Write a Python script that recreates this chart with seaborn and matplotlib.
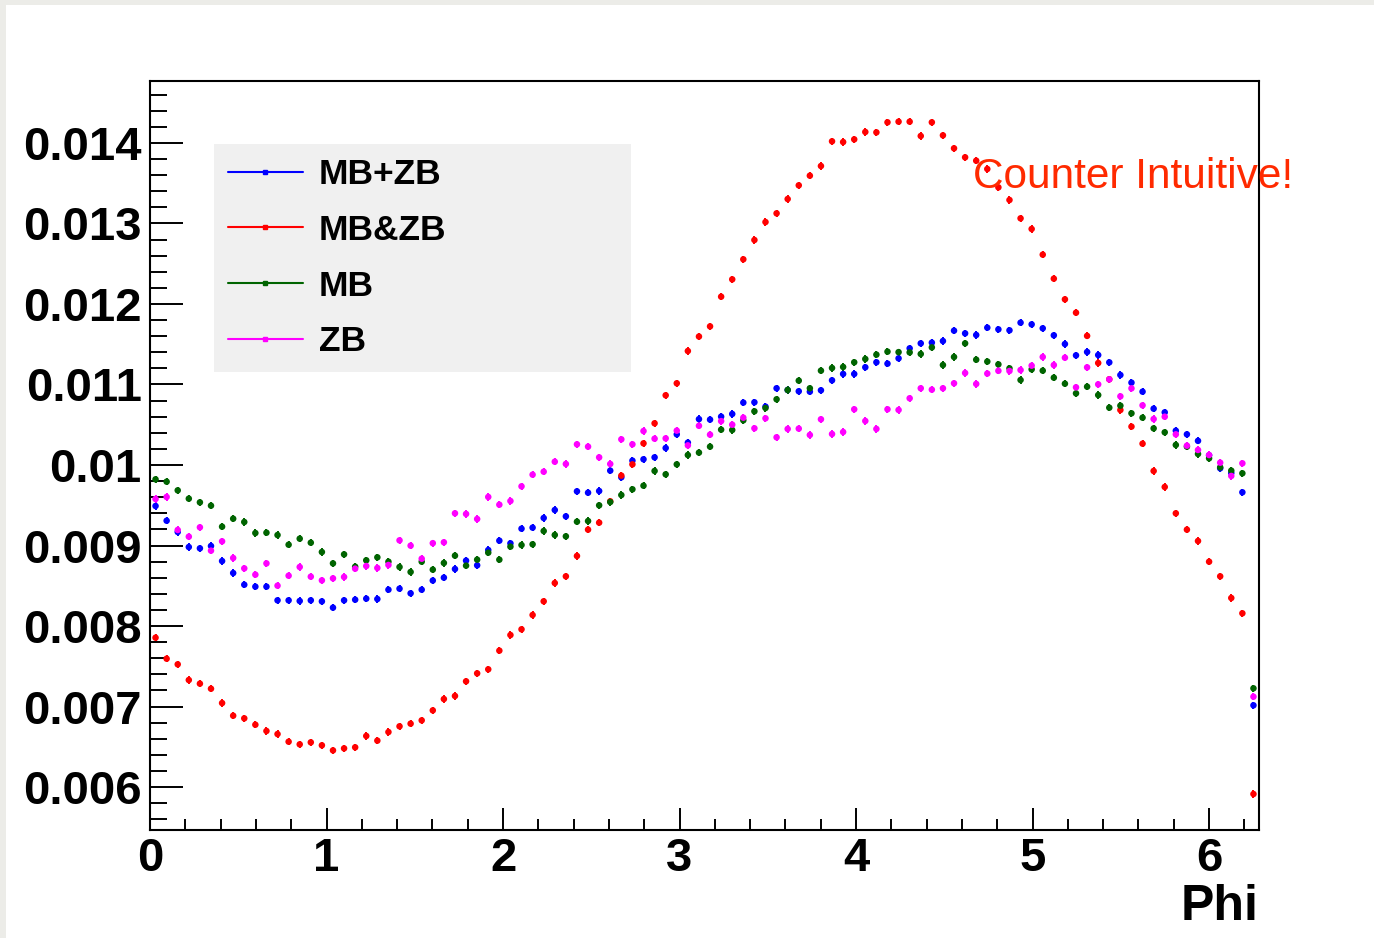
import numpy as np
import pandas as pd
import matplotlib
matplotlib.use("Agg")
import matplotlib.pyplot as plt
import seaborn as sns
from matplotlib.lines import Line2D
from matplotlib.patches import Rectangle
from matplotlib.ticker import MultipleLocator, FixedLocator, FixedFormatter

# 100 bins in phi, values in units of 1e-3
n_bins = 100
phi_edges = np.linspace(0, 2 * np.pi, n_bins + 1)
phi = 0.5 * (phi_edges[:-1] + phi_edges[1:])

mb_plus_zb = [
    9.491, 9.308, 9.168, 8.981, 8.965, 8.994, 8.807, 8.658, 8.513, 8.489,
    8.489, 8.319, 8.319, 8.311, 8.319, 8.306, 8.228, 8.319, 8.327, 8.340,
    8.335, 8.451, 8.464, 8.406, 8.451, 8.565, 8.601, 8.708, 8.812, 8.754,
    8.944, 9.060, 9.027, 9.209, 9.222, 9.342, 9.441, 9.362, 9.673, 9.656,
    9.677, 9.930, 9.847, 10.054, 10.071, 10.095, 10.211, 10.381, 10.278, 10.570,
    10.564, 10.601, 10.634, 10.775, 10.779, 10.725, 10.953, 10.932, 10.916, 10.911,
    10.928, 11.052, 11.131, 11.131, 11.214, 11.276, 11.259, 11.325, 11.449, 11.511,
    11.520, 11.540, 11.669, 11.635, 11.615, 11.706, 11.685, 11.673, 11.768, 11.747,
    11.698, 11.611, 11.503, 11.362, 11.404, 11.366, 11.275, 11.118, 11.023, 10.911,
    10.700, 10.654, 10.426, 10.381, 10.300, 10.120, 9.959, 9.900, 9.661, 7.015,
]
mb_and_zb = [
    7.855, 7.594, 7.524, 7.329, 7.284, 7.221, 7.043, 6.886, 6.853, 6.774,
    6.696, 6.658, 6.563, 6.530, 6.555, 6.518, 6.455, 6.480, 6.493, 6.634,
    6.576, 6.683, 6.754, 6.787, 6.828, 6.952, 7.093, 7.131, 7.313, 7.412,
    7.462, 7.694, 7.888, 7.959, 8.137, 8.307, 8.534, 8.617, 8.870, 9.197,
    9.284, 9.549, 9.868, 10.008, 10.269, 10.518, 10.866, 11.015, 11.416, 11.596,
    11.722, 12.091, 12.306, 12.555, 12.795, 13.018, 13.126, 13.304, 13.474, 13.594,
    13.714, 14.021, 14.012, 14.045, 14.137, 14.132, 14.257, 14.265, 14.265, 14.087,
    14.257, 14.095, 13.934, 13.822, 13.780, 13.677, 13.449, 13.292, 13.064, 12.932,
    12.613, 12.315, 12.058, 11.892, 11.604, 11.267, 11.065, 10.683, 10.477, 10.265,
    9.926, 9.727, 9.400, 9.197, 9.056, 8.799, 8.617, 8.348, 8.158, 5.913,
]
mb = [
    9.822, 9.793, 9.685, 9.582, 9.536, 9.495, 9.234, 9.333, 9.292, 9.155,
    9.159, 9.130, 9.010, 9.085, 9.035, 8.919, 8.778, 8.890, 8.737, 8.816,
    8.853, 8.799, 8.733, 8.671, 8.799, 8.700, 8.783, 8.874, 8.750, 8.824,
    8.911, 8.824, 8.986, 9.006, 9.015, 9.180, 9.131, 9.114, 9.296, 9.304,
    9.499, 9.540, 9.627, 9.698, 9.743, 9.926, 9.884, 10.008, 10.124, 10.154,
    10.228, 10.439, 10.435, 10.555, 10.667, 10.708, 10.816, 10.932, 11.048, 10.953,
    11.172, 11.205, 11.218, 11.276, 11.317, 11.371, 11.408, 11.402, 11.399, 11.379,
    11.461, 11.242, 11.342, 11.511, 11.308, 11.285, 11.250, 11.201, 11.056, 11.188,
    11.172, 11.085, 11.010, 10.890, 10.973, 10.869, 10.712, 10.737, 10.642, 10.588,
    10.455, 10.406, 10.249, 10.228, 10.137, 10.083, 9.971, 9.930, 9.897, 7.226,
]
zb = [
    9.578, 9.603, 9.193, 9.110, 9.226, 8.936, 9.052, 8.845, 8.716, 8.638,
    8.778, 8.501, 8.625, 8.733, 8.613, 8.567, 8.592, 8.609, 8.712, 8.745,
    8.721, 8.758, 9.064, 8.998, 8.836, 9.029, 9.040, 9.400, 9.392, 9.329,
    9.603, 9.507, 9.553, 9.735, 9.880, 9.917, 10.041, 10.013, 10.257, 10.228,
    10.095, 10.013, 10.319, 10.257, 10.422, 10.327, 10.331, 10.427, 10.244, 10.487,
    10.377, 10.545, 10.501, 10.588, 10.456, 10.580, 10.344, 10.448, 10.452, 10.373,
    10.568, 10.385, 10.410, 10.692, 10.547, 10.448, 10.692, 10.684, 10.829, 10.953,
    10.936, 10.953, 11.015, 11.143, 11.007, 11.136, 11.170, 11.168, 11.180, 11.234,
    11.342, 11.242, 11.333, 10.965, 11.213, 11.002, 11.064, 10.853, 10.952, 10.741,
    10.571, 10.600, 10.381, 10.240, 10.187, 10.124, 10.029, 9.864, 10.021, 7.122,
]

series_names = ["MB+ZB", "MB&ZB", "MB", "ZB"]
series_values = [mb_plus_zb, mb_and_zb, mb, zb]
series_colors = ["#0000ff", "#ff0000", "#006400", "#ff00ff"]
err = 0.045  # same units (1e-3)

y_ticks = [0.006, 0.007, 0.008, 0.009, 0.010, 0.011, 0.012, 0.013, 0.014]
y_tick_labels = ["0.006", "0.007", "0.008", "0.009", "0.01", "0.011", "0.012", "0.013", "0.014"]
x_ticks = [0, 1, 2, 3, 4, 5, 6]

frames = []
for name, vals in zip(series_names, series_values):
    frames.append(pd.DataFrame({"phi": phi, "value": np.array(vals) * 1e-3, "trigger": name}))
df = pd.concat(frames, ignore_index=True)

sns.set_theme(style="ticks")
plt.rcParams['font.family'] = ['Liberation Sans', 'DejaVu Sans']

fig = plt.figure(figsize=(13.74, 9.38), dpi=100)
fig.patch.set_facecolor("#ecece8")
fig.add_artist(Rectangle((6 / 1374, 0), 1, 1 - 5 / 938, transform=fig.transFigure,
                         facecolor="white", edgecolor="none", zorder=-1))
ax = fig.add_axes([150 / 1374, 1 - 830 / 938, 1109 / 1374, 749 / 938])

palette = dict(zip(series_names, series_colors))
for name in series_names:
    sub = df[df["trigger"] == name]
    ax.errorbar(sub["phi"], sub["value"], yerr=err * 1e-3, fmt="none",
                ecolor=palette[name], elinewidth=1.4, capsize=0, zorder=2)
sns.scatterplot(data=df, x="phi", y="value", hue="trigger", palette=palette,
                hue_order=series_names, marker="o", s=22, linewidth=0,
                legend=False, ax=ax, zorder=3)

ax.set_xlim(0, 2 * np.pi)
ax.set_ylim(0.005466, 0.01477)
ax.xaxis.set_major_locator(FixedLocator(x_ticks))
ax.xaxis.set_minor_locator(MultipleLocator(0.2))
ax.yaxis.set_major_locator(FixedLocator(y_ticks))
ax.yaxis.set_major_formatter(FixedFormatter(y_tick_labels))
ax.yaxis.set_minor_locator(MultipleLocator(0.0002))

ax.tick_params(which="both", direction="in", top=False, right=False, color="black", width=1.4)
ax.tick_params(axis="y", which="major", length=24, pad=6)
ax.tick_params(axis="y", which="minor", length=12)
ax.tick_params(axis="x", which="major", length=16, pad=5)
ax.tick_params(axis="x", which="minor", length=8)
for lab in ax.get_xticklabels() + ax.get_yticklabels():
    lab.set_fontsize(34)
    lab.set_fontweight("bold")
    lab.set_color("black")
for sp in ax.spines.values():
    sp.set_visible(True)
    sp.set_linewidth(1.5)
    sp.set_color("black")

ax.set_xlabel("Phi", loc="right", fontsize=36, fontweight="bold", labelpad=2, color="black")
ax.set_ylabel("")

ax.text(4.665, 0.01344, "Counter Intuitive!", color="#ff2a00", fontsize=30.5,
        va="baseline", ha="left", clip_on=False)

handles = [Line2D([], [], color=c, lw=1.5, marker="s", markersize=3) for c in series_colors]
leg = ax.legend(handles, series_names, loc="upper left",
                bbox_to_anchor=(214 / 1374, 1 - 367 / 938, 417 / 1374, 223 / 938),
                bbox_transform=fig.transFigure, mode="expand", borderaxespad=0,
                prop={"size": 25.5, "weight": "bold"}, frameon=True, fancybox=False,
                borderpad=0.4, labelspacing=0.64, handlelength=2.1, handletextpad=0.46,
                labelcolor="black")
leg.get_frame().set_facecolor("#f0f0f0")
leg.get_frame().set_edgecolor("none")
leg.get_frame().set_alpha(1)

fig.savefig("out.png", dpi=100)
